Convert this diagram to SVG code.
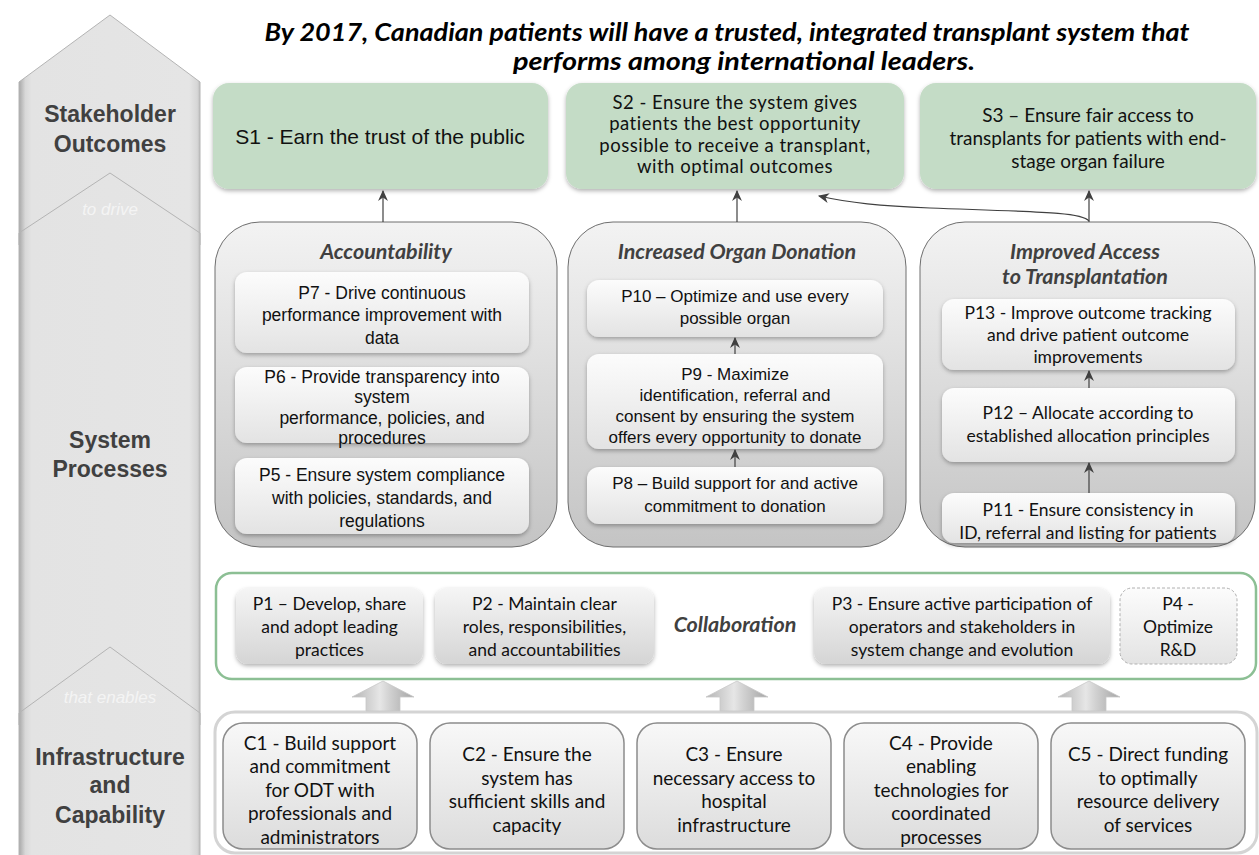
<svg xmlns="http://www.w3.org/2000/svg" width="1259" height="855" viewBox="0 0 1259 855">
<defs>
<style>
.lbl{font-family:"Liberation Sans",Arial,sans-serif;font-weight:bold;font-size:23px;fill:#404040;text-anchor:middle}
.conn{font-family:"Liberation Sans",Arial,sans-serif;font-style:italic;font-size:17px;fill:#f4f4f4;text-anchor:middle}
.title{font-family:Lato,"Liberation Sans",sans-serif;font-weight:bold;font-style:italic;font-size:24px;fill:#000;text-anchor:middle}
.ptitle{font-family:Lato,"Liberation Sans",sans-serif;font-weight:bold;font-style:italic;font-size:21.5px;fill:#404040;text-anchor:middle}
.ar{font-family:"Liberation Sans",Arial,sans-serif;font-size:17.5px;fill:#111;text-anchor:middle}
.ar2{font-family:"Liberation Sans",Arial,sans-serif;font-size:17px;fill:#111;text-anchor:middle}
.s1{font-family:"Liberation Sans",Arial,sans-serif;font-size:21px;fill:#111;text-anchor:middle}
.cal{font-family:Lato,"Liberation Sans",sans-serif;font-size:17.5px;fill:#111;text-anchor:middle}
.cal2{font-family:Lato,"Liberation Sans",sans-serif;font-size:18.5px;letter-spacing:0.5px;fill:#111;text-anchor:middle}
.cal3{font-family:Lato,"Liberation Sans",sans-serif;font-size:19px;fill:#111;text-anchor:middle}
.sbox{fill:#c4dcc6;filter:url(#sh)}
.panel{fill:url(#gPanel);stroke:#6e6e6e;stroke-width:1}
.ibox{fill:url(#gInner);filter:url(#sh)}
.cbox{fill:url(#gCollab);filter:url(#sh)}
.capbox{fill:url(#gCap);stroke:#8c8c8c;stroke-width:1.5}
.chev{fill:url(#gChev);stroke:#b4b4b4;stroke-width:1}
.line{fill:none;stroke:#404040;stroke-width:1.2;marker-end:url(#ah)}
.barrow{fill:url(#gBlock);stroke:#c8c8c8;stroke-width:0.8}
</style>
<filter id="sh" x="-10%" y="-10%" width="120%" height="130%">
<feDropShadow dx="0" dy="2" stdDeviation="2" flood-color="#000" flood-opacity="0.3"/>
</filter>
<linearGradient id="gPanel" x1="0" y1="0" x2="0" y2="1">
<stop offset="0" stop-color="#f3f3f3"/><stop offset="1" stop-color="#c4c4c4"/>
</linearGradient>
<linearGradient id="gInner" x1="0" y1="0" x2="0" y2="1">
<stop offset="0" stop-color="#fcfcfc"/><stop offset="1" stop-color="#e3e3e3"/>
</linearGradient>
<linearGradient id="gCollab" x1="0" y1="0" x2="0" y2="1">
<stop offset="0" stop-color="#f5f5f5"/><stop offset="1" stop-color="#d5d5d5"/>
</linearGradient>
<linearGradient id="gCap" x1="0" y1="0" x2="0" y2="1">
<stop offset="0" stop-color="#f8f8f8"/><stop offset="1" stop-color="#dcdcdc"/>
</linearGradient>
<linearGradient id="gChev" x1="0" y1="0" x2="1" y2="0">
<stop offset="0" stop-color="#a8a8a8"/><stop offset="0.035" stop-color="#d8d8d8"/><stop offset="0.07" stop-color="#e3e3e3"/><stop offset="0.94" stop-color="#e5e5e5"/><stop offset="0.985" stop-color="#d6d6d6"/><stop offset="1" stop-color="#bcbcbc"/>
</linearGradient>
<linearGradient id="gBlock" x1="0" y1="0" x2="1" y2="0">
<stop offset="0" stop-color="#b4b4b4"/><stop offset="0.45" stop-color="#e6e6e6"/><stop offset="0.6" stop-color="#d2d2d2"/><stop offset="1" stop-color="#a4a4a4"/>
</linearGradient>
<marker id="ah" viewBox="0 0 10 10" refX="9" refY="5" markerWidth="11" markerHeight="11" markerUnits="userSpaceOnUse" orient="auto">
<path d="M0,0.5 L10,5 L0,9.5 L3,5 z" fill="#404040"/>
</marker>
</defs>
<rect width="1259" height="855" fill="#ffffff"/>

<!-- left chevron column -->
<g id="chevron-stakeholder">
<path class="chev" d="M19,82 L110,15 L200,82 L200,245 L19,245 Z"/>
<text class="lbl" x="110" y="122">Stakeholder</text>
<text class="lbl" x="110" y="152">Outcomes</text>
</g>
<g id="chevron-processes">
<path class="chev" d="M19,233 L110,173 L200,233 L200,725 L19,725 Z"/>
<text class="conn" x="110" y="215">to drive</text>
<text class="lbl" x="110" y="448">System</text>
<text class="lbl" x="110" y="477">Processes</text>
</g>
<g id="chevron-infrastructure">
<path class="chev" d="M19,713 L110,647 L200,713 L200,860 L19,860 Z"/>
<text class="conn" x="110" y="703">that enables</text>
<text class="lbl" x="110" y="765">Infrastructure</text>
<text class="lbl" x="110" y="793">and</text>
<text class="lbl" x="110" y="823">Capability</text>
</g>

<!-- title -->
<g id="title">
<text class="title" x="727" y="41" textLength="925" lengthAdjust="spacingAndGlyphs">By 2017, Canadian patients will have a trusted, integrated transplant system that</text>
<text class="title" x="744" y="70" textLength="462" lengthAdjust="spacingAndGlyphs">performs among international leaders.</text>
</g>

<!-- stakeholder outcomes -->
<g id="S1">
<rect class="sbox" x="213" y="83" width="335" height="106" rx="16"/>
<text class="s1" x="380" y="144">S1 - Earn the trust of the public</text>
</g>
<g id="S2">
<rect class="sbox" x="566" y="83" width="338" height="106" rx="16"/>
<text class="cal2" x="735" y="109">S2 - Ensure the system gives</text>
<text class="cal2" x="735" y="130">patients the best opportunity</text>
<text class="cal2" x="735" y="152">possible to receive a transplant,</text>
<text class="cal2" x="735" y="173">with optimal outcomes</text>
</g>
<g id="S3">
<rect class="sbox" x="920" y="83" width="336" height="106" rx="16"/>
<text class="cal3" x="1088" y="122">S3 – Ensure fair access to</text>
<text class="cal3" x="1088" y="145">transplants for patients with end-</text>
<text class="cal3" x="1088" y="168">stage organ failure</text>
</g>

<!-- process panels -->
<g id="accountability">
<rect class="panel" x="215" y="222" width="342" height="325" rx="45"/>
<text class="ptitle" x="386" y="259">Accountability</text>
<g id="P7">
<rect class="ibox" x="235" y="272" width="294" height="81" rx="12"/>
<text class="ar" x="382" y="299">P7 - Drive continuous</text>
<text class="ar" x="382" y="321">performance improvement with</text>
<text class="ar" x="382" y="344">data</text>
</g>
<g id="P6">
<rect class="ibox" x="235" y="367" width="294" height="76" rx="12"/>
<text class="ar" x="382" y="383">P6 - Provide transparency into</text>
<text class="ar" x="382" y="403">system</text>
<text class="ar" x="382" y="424">performance, policies, and</text>
<text class="ar" x="382" y="444">procedures</text>
</g>
<g id="P5">
<rect class="ibox" x="235" y="458" width="294" height="76" rx="12"/>
<text class="ar" x="382" y="481">P5 - Ensure system compliance</text>
<text class="ar" x="382" y="504">with policies, standards, and</text>
<text class="ar" x="382" y="527">regulations</text>
</g>
</g>

<g id="organ-donation">
<rect class="panel" x="568" y="222" width="338" height="325" rx="45"/>
<text class="ptitle" x="737" y="259">Increased Organ Donation</text>
<g id="P10">
<rect class="ibox" x="587" y="280" width="296" height="57" rx="12"/>
<text class="ar2" x="735" y="302">P10 – Optimize and use every</text>
<text class="ar2" x="735" y="324">possible organ</text>
</g>
<g id="P9">
<rect class="ibox" x="587" y="354" width="296" height="95" rx="12"/>
<text class="ar2" x="735" y="380">P9 - Maximize</text>
<text class="ar2" x="735" y="401">identification, referral and</text>
<text class="ar2" x="735" y="422">consent by ensuring the system</text>
<text class="ar2" x="735" y="443">offers every opportunity to donate</text>
</g>
<g id="P8">
<rect class="ibox" x="587" y="467" width="296" height="57" rx="12"/>
<text class="ar2" x="735" y="489">P8 – Build support for and active</text>
<text class="ar2" x="735" y="512">commitment to donation</text>
</g>
</g>

<g id="access">
<rect class="panel" x="920" y="222" width="335" height="325" rx="45"/>
<text class="ptitle" x="1085" y="259">Improved Access</text>
<text class="ptitle" x="1085" y="284">to Transplantation</text>
<g id="P13">
<rect class="ibox" x="942" y="299" width="293" height="71" rx="12"/>
<text class="cal" x="1088" y="319">P13 - Improve outcome tracking</text>
<text class="cal" x="1088" y="341">and drive patient outcome</text>
<text class="cal" x="1088" y="363">improvements</text>
</g>
<g id="P12">
<rect class="ibox" x="942" y="388" width="293" height="74" rx="12"/>
<text class="cal" x="1088" y="419">P12 – Allocate according to</text>
<text class="cal" x="1088" y="442">established allocation principles</text>
</g>
<g id="P11">
<rect class="ibox" x="942" y="493" width="293" height="50" rx="12"/>
<text class="cal" x="1088" y="516">P11 - Ensure consistency in</text>
<text class="cal" x="1088" y="539">ID, referral and listing for patients</text>
</g>
</g>

<!-- collaboration band -->
<g id="collaboration">
<rect x="216" y="573" width="1040" height="106" rx="16" fill="#ffffff" stroke="#8cbf94" stroke-width="2.5"/>
<text class="ptitle" x="735" y="632">Collaboration</text>
<g id="P1">
<rect class="cbox" x="236" y="588" width="187" height="76" rx="12"/>
<text class="cal" x="329.5" y="610">P1 – Develop, share</text>
<text class="cal" x="329.5" y="633">and adopt leading</text>
<text class="cal" x="329.5" y="656">practices</text>
</g>
<g id="P2">
<rect class="cbox" x="435" y="588" width="219" height="76" rx="12"/>
<text class="cal" x="544.5" y="610">P2 - Maintain clear</text>
<text class="cal" x="544.5" y="633">roles, responsibilities,</text>
<text class="cal" x="544.5" y="656">and accountabilities</text>
</g>
<g id="P3">
<rect class="cbox" x="814" y="588" width="296" height="76" rx="12"/>
<text class="cal" x="962" y="610">P3 - Ensure active participation of</text>
<text class="cal" x="962" y="633">operators and stakeholders in</text>
<text class="cal" x="962" y="656">system change and evolution</text>
</g>
<g id="P4">
<rect x="1120" y="588" width="117" height="76" rx="12" fill="url(#gInner)" stroke="#b0b0b0" stroke-width="1" stroke-dasharray="3,2"/>
<text class="cal" x="1178" y="610">P4 -</text>
<text class="cal" x="1178" y="633">Optimize</text>
<text class="cal" x="1178" y="656">R&amp;D</text>
</g>
</g>

<!-- capability container -->
<g id="capability">
<rect x="215" y="712" width="1042" height="141" rx="20" fill="#ffffff" stroke="#d4d4d4" stroke-width="3"/>
<g id="C1">
<rect class="capbox" x="223" y="723" width="194" height="126" rx="20"/>
<text class="cal3" x="320" y="749.5">C1 - Build support</text>
<text class="cal3" x="320" y="773">and commitment</text>
<text class="cal3" x="320" y="796.5">for ODT with</text>
<text class="cal3" x="320" y="820">professionals and</text>
<text class="cal3" x="320" y="843.5">administrators</text>
</g>
<g id="C2">
<rect class="capbox" x="430" y="723" width="194" height="126" rx="20"/>
<text class="cal3" x="527" y="761">C2 - Ensure the</text>
<text class="cal3" x="527" y="784.5">system has</text>
<text class="cal3" x="527" y="808">sufficient skills and</text>
<text class="cal3" x="527" y="831.5">capacity</text>
</g>
<g id="C3">
<rect class="capbox" x="637" y="723" width="194" height="126" rx="20"/>
<text class="cal3" x="734" y="761">C3 - Ensure</text>
<text class="cal3" x="734" y="784.5">necessary access to</text>
<text class="cal3" x="734" y="808">hospital</text>
<text class="cal3" x="734" y="831.5">infrastructure</text>
</g>
<g id="C4">
<rect class="capbox" x="844" y="723" width="194" height="126" rx="20"/>
<text class="cal3" x="941" y="749.5">C4 - Provide</text>
<text class="cal3" x="941" y="773">enabling</text>
<text class="cal3" x="941" y="796.5">technologies for</text>
<text class="cal3" x="941" y="820">coordinated</text>
<text class="cal3" x="941" y="843.5">processes</text>
</g>
<g id="C5">
<rect class="capbox" x="1051" y="723" width="194" height="126" rx="20"/>
<text class="cal3" x="1148" y="761">C5 - Direct funding</text>
<text class="cal3" x="1148" y="784.5">to optimally</text>
<text class="cal3" x="1148" y="808">resource delivery</text>
<text class="cal3" x="1148" y="831.5">of services</text>
</g>
</g>

<!-- connectors -->
<g id="connectors">
<path class="line" d="M383,222 L383,191"/>
<path class="line" d="M737,222 L737,191"/>
<path class="line" d="M1089,222 L1089,191"/>
<path class="line" d="M1089,221 C1082,212 1040,212 930,208 C880,206 850,203 819,196"/>
<path class="line" d="M735,354 L735,338"/>
<path class="line" d="M735,467 L735,450"/>
<path class="line" d="M1089,388 L1089,371"/>
<path class="line" d="M1089,493 L1089,463"/>
<path class="barrow" d="M383,681 L414,697 L400,697 L400,711 L366,711 L366,697 L352,697 Z"/>
<path class="barrow" d="M737,681 L768,697 L754,697 L754,711 L720,711 L720,697 L706,697 Z"/>
<path class="barrow" d="M1089,681 L1120,697 L1106,697 L1106,711 L1072,711 L1072,697 L1058,697 Z"/>
</g>
</svg>
